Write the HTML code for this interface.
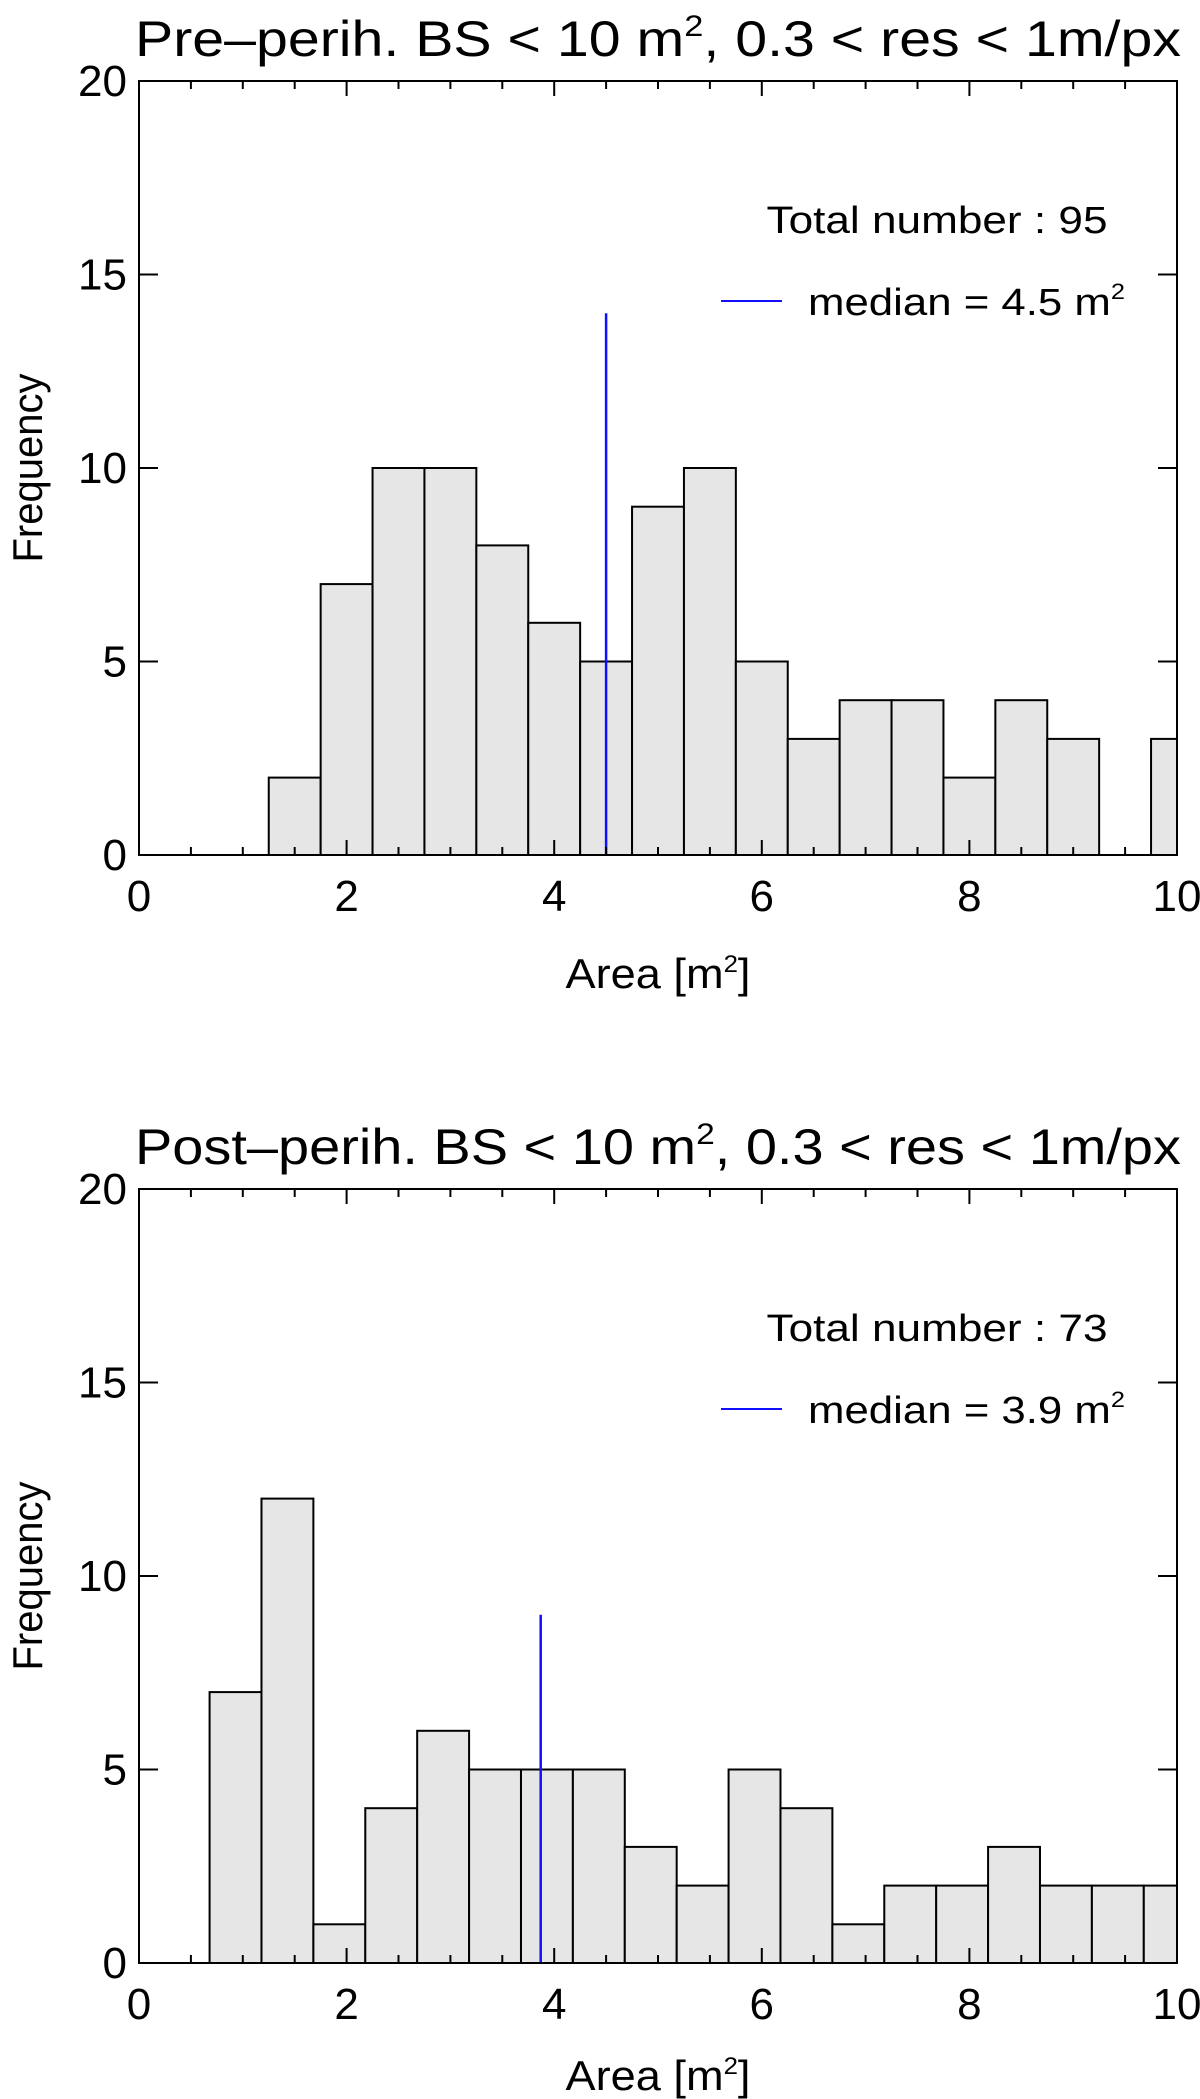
<!DOCTYPE html>
<html><head><meta charset="utf-8"><style>
html,body{margin:0;padding:0;background:#fff;}
svg{display:block;font-family:"Liberation Sans",Arial,sans-serif;}
</style></head><body>
<svg id="chart" width="1200" height="2099" viewBox="0 0 1200 2099" xmlns="http://www.w3.org/2000/svg"></svg>
<script>
// Pre-perihelion panel data
const preBinStarts = [1.25,1.75,2.25,2.75,3.25,3.75,4.25,4.75,5.25,5.75,6.25,6.75,7.25,7.75,8.25,8.75,9.25,9.75];
const preCounts = [2,7,10,10,8,6,5,9,10,5,3,4,4,2,4,3,0,3];
const preMedian = 4.5;
const preMedianTop = 14;
const preTotal = 95;
// Post-perihelion panel data
const postBinStarts = [0.68,1.18,1.68,2.18,2.68,3.18,3.68,4.18,4.68,5.18,5.68,6.18,6.68,7.18,7.68,8.18,8.68,9.18,9.68];
const postCounts = [7,12,1,4,6,5,5,5,3,2,5,4,1,2,2,3,2,2,2];
const postMedian = 3.87;
const postMedianTop = 9;
const postTotal = 73;
const binWidth = 0.5;
const xTicks = [0,2,4,6,8,10];
const yTicks = [0,5,10,15,20];

const NS = "http://www.w3.org/2000/svg";
const svg = document.getElementById('chart');
function mk(tag, attrs, parent){
  const e = document.createElementNS(NS, tag);
  for (const k in attrs) e.setAttribute(k, attrs[k]);
  (parent||svg).appendChild(e);
  return e;
}

function panel(id, top, title, starts, counts, median, medTop, total, medLabel){
  const L=139, R=1177, yTop=top, yBot=top+774;
  const xs = v => L + (v/10)*(R-L);
  const ys = v => yBot - (v/20)*(yBot-yTop);
  const g = mk('g', {});
  
  
  starts.forEach((s,i)=>{
    if (counts[i] <= 0) return;
    const x0 = xs(s), x1 = xs(Math.min(s+binWidth,10));
    const r = mk('rect', {x:x0, y:ys(counts[i]), width:x1-x0, height:ys(0)-ys(counts[i]), fill:'#e6e6e6', stroke:'#000', 'stroke-width':2}, g);
    
    
  });
  const ml = mk('line', {x1:xs(median), x2:xs(median), y1:ys(0), y2:ys(medTop), stroke:'#1010ff', 'stroke-width':2.5}, g);
  
  
  const fr = mk('rect', {x:L, y:yTop, width:R-L, height:yBot-yTop, fill:'none', stroke:'#000', 'stroke-width':2}, g);
  
  
  for (let v=0; v<=10.001; v+=0.5){
    const major = Math.abs(v - Math.round(v/2)*2) < 1e-6;
    const len = major ? 15 : 8;
    mk('line', {x1:xs(v), x2:xs(v), y1:yBot, y2:yBot-len, stroke:'#000','stroke-width':2}, g);
    mk('line', {x1:xs(v), x2:xs(v), y1:yTop, y2:yTop+len, stroke:'#000','stroke-width':2}, g);
  }
  xTicks.forEach(v=>{
    const t = mk('text', {x:xs(v), y:yBot+56, 'font-size':44, 'text-anchor':'middle'}, g);
    t.textContent = v;
    
    
  });
  yTicks.forEach(v=>{
    mk('line', {x1:L, x2:L+19, y1:ys(v), y2:ys(v), stroke:'#000','stroke-width':2}, g);
    mk('line', {x1:R, x2:R-19, y1:ys(v), y2:ys(v), stroke:'#000','stroke-width':2}, g);
    const t = mk('text', {x:127, y:ys(v)+15, 'font-size':44, 'text-anchor':'end'}, g);
    t.textContent = v;
    
    
  });
  const tt = mk('text', {x:658, y:top-25, 'font-size':50, 'text-anchor':'middle', textLength:1046, lengthAdjust:'spacingAndGlyphs'}, g);
  tt.innerHTML = title;
  
  
  const xl = mk('text', {x:658, y:Math.min(yBot+133, 2090), 'font-size':42, 'text-anchor':'middle', textLength:185, lengthAdjust:'spacingAndGlyphs'}, g);
  xl.innerHTML = 'Area [m<tspan dy="-16" font-size="24">2</tspan><tspan dy="16">]</tspan>';
  
  
  const yl = mk('text', {x:0, y:0, 'font-size':42, 'text-anchor':'middle', textLength:189, lengthAdjust:'spacingAndGlyphs', transform:`translate(42,${(yTop+yBot)/2}) rotate(-90)`}, g);
  yl.textContent = 'Frequency';
  
  
  const tn = mk('text', {x:937, y:top+152, 'font-size':38, 'text-anchor':'middle', textLength:341, lengthAdjust:'spacingAndGlyphs'}, g);
  tn.textContent = 'Total number : ' + total;
  
  
  const ll = mk('line', {x1:721, x2:782, y1:top+220, y2:top+220, stroke:'#1010ff','stroke-width':2}, g);
  
  
  const lt = mk('text', {x:808, y:top+234, 'font-size':38, textLength:317, lengthAdjust:'spacingAndGlyphs'}, g);
  lt.innerHTML = 'median = ' + medLabel + ' m<tspan dy="-16" font-size="22">2</tspan>';
  
  
}

panel('pre-perihelion', 81, 'Pre\u2013perih. BS &lt; 10 m<tspan dy="-20" font-size="30">2</tspan><tspan dy="20">, 0.3 &lt; res &lt; 1m/px</tspan>', preBinStarts, preCounts, preMedian, preMedianTop, preTotal, '4.5');
panel('post-perihelion', 1189, 'Post\u2013perih. BS &lt; 10 m<tspan dy="-20" font-size="30">2</tspan><tspan dy="20">, 0.3 &lt; res &lt; 1m/px</tspan>', postBinStarts, postCounts, postMedian, postMedianTop, postTotal, '3.9');
</script>
</body></html>
